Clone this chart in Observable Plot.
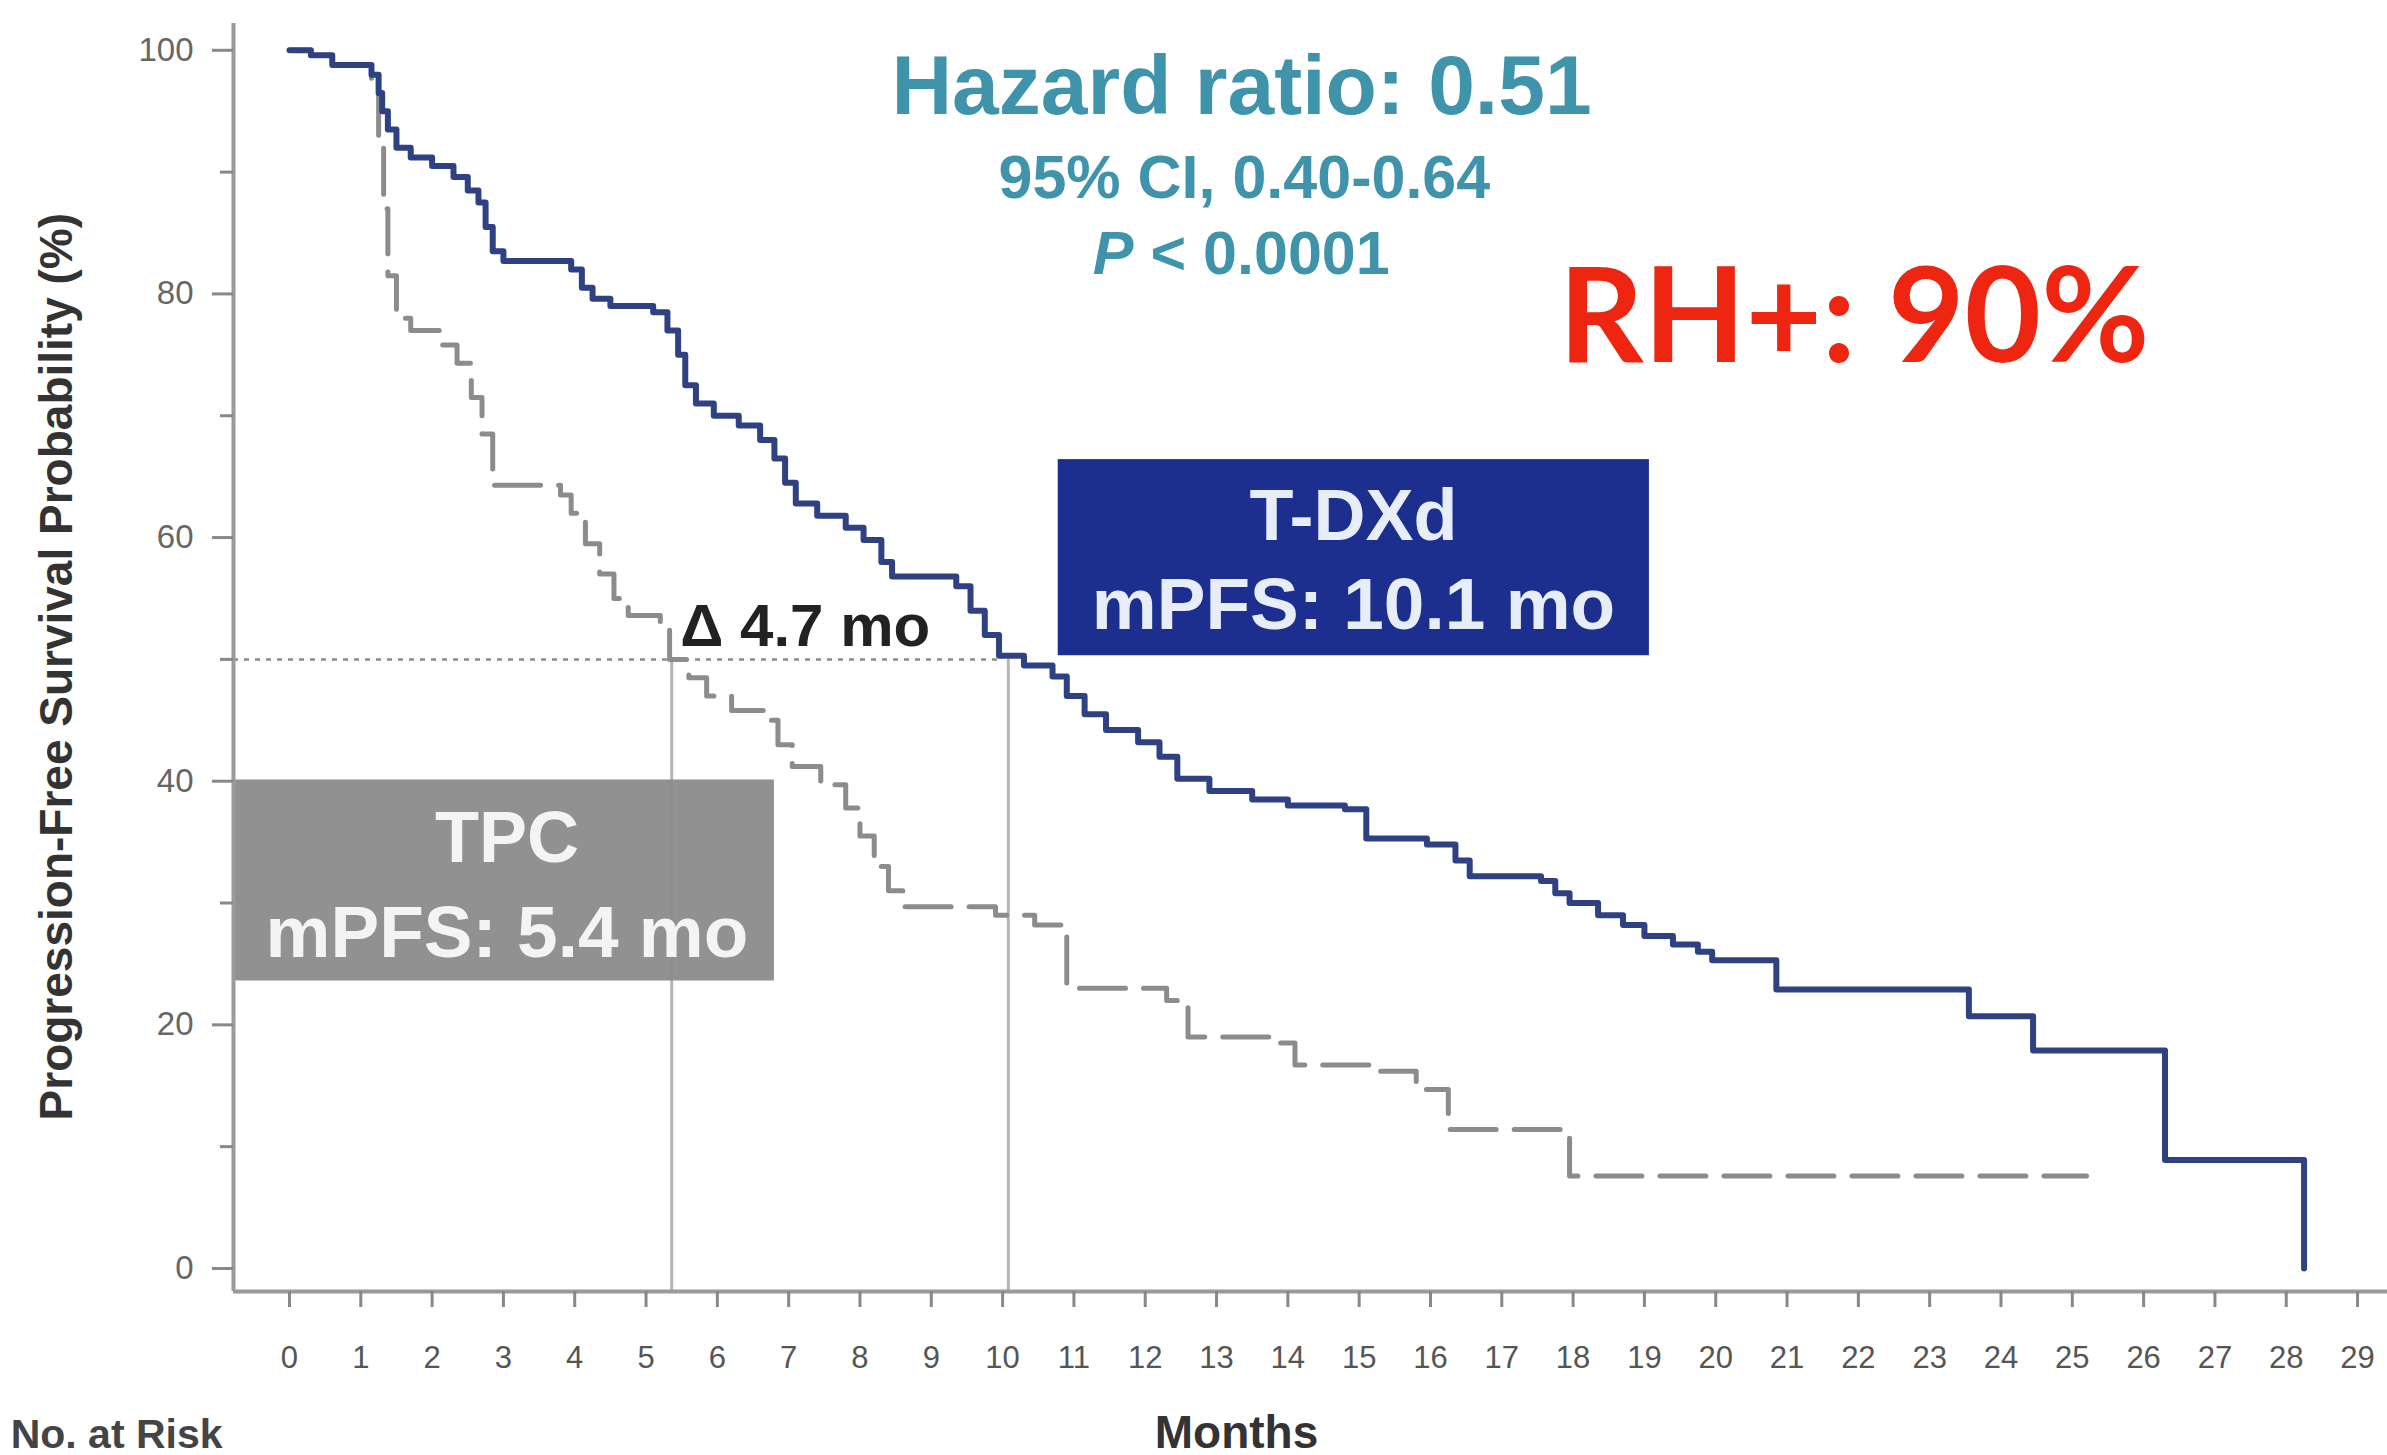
<!DOCTYPE html>
<html>
<head>
<meta charset="utf-8">
<script src="https://cdn.jsdelivr.net/npm/d3@7"></script>
<script src="https://cdn.jsdelivr.net/npm/@observablehq/plot@0.6"></script>
<style>
  html, body { margin: 0; padding: 0; background: #ffffff; }
  #chart svg { display: block; }
</style>
</head>
<body>
<div id="chart"></div>
<script>
// ---------- data ----------
const tdxdTime = [0, 0.3, 0.6, 1.15, 1.25, 1.3, 1.38, 1.5, 1.7, 2.0, 2.3, 2.5, 2.65, 2.75, 2.85, 3.0,
  3.95, 4.1, 4.25, 4.5, 5.1, 5.3, 5.45, 5.55, 5.7, 5.95, 6.3, 6.6, 6.8, 6.95, 7.1, 7.4, 7.8, 8.05,
  8.3, 8.45, 9.35, 9.55, 9.75, 9.95, 10.3, 10.7, 10.9, 11.15, 11.45, 11.9, 12.2, 12.45, 12.9, 13.5,
  14.0, 14.8, 15.1, 15.95, 16.35, 16.55, 17.55, 17.75, 17.95, 18.35, 18.7, 19.0, 19.4, 19.75, 19.95,
  20.85, 23.55, 24.45, 26.3, 28.25];
const tdxdSurv = [100, 99.6, 98.8, 98.0, 96.5, 95.0, 93.5, 92.0, 91.2, 90.5, 89.6, 88.5, 87.5, 85.5, 83.5, 82.7,
  82.0, 80.5, 79.6, 79.0, 78.5, 77.0, 75.0, 72.5, 71.0, 70.0, 69.2, 68.0, 66.5, 64.5, 62.8, 61.8, 60.8, 59.8,
  58.0, 56.8, 56.0, 54.0, 52.0, 50.3, 49.5, 48.6, 47.0, 45.5, 44.2, 43.2, 42.0, 40.2, 39.2, 38.5,
  38.0, 37.7, 35.3, 34.8, 33.5, 32.2, 31.8, 30.8, 30.0, 29.0, 28.2, 27.3, 26.6, 26.0, 25.3,
  22.9, 20.7, 17.9, 8.9, 0];

const tpcTime = [0, 0.3, 0.6, 1.15, 1.25, 1.32, 1.38, 1.5, 1.7, 2.1, 2.35, 2.55, 2.7, 2.85, 3.8, 3.95,
  4.15, 4.35, 4.55, 4.75, 5.2, 5.33, 5.6, 5.85, 6.2, 6.65, 6.85, 7.05, 7.45, 7.8, 8.0, 8.2, 8.4, 8.6,
  9.9, 10.45, 10.9, 12.3, 12.6, 13.75, 14.1, 15.2, 15.8, 16.25, 17.95, 25.2];
const tpcSurv = [100, 99.6, 98.8, 97.5, 93.0, 87.0, 81.5, 78.0, 77.0, 75.8, 74.3, 71.5, 68.5, 64.3, 63.5, 62.0,
  59.5, 57.0, 55.0, 53.6, 53.0, 50.0, 48.5, 47.0, 45.8, 45.0, 43.0, 41.2, 39.7, 37.8, 35.5, 33.0, 31.0, 29.7,
  29.0, 28.2, 23.0, 22.0, 19.0, 18.5, 16.7, 16.2, 14.7, 11.4, 7.6, 7.6];

const xTicks = d3.range(0, 30);              // 0 … 29 months
const yTicksMajor = [0, 20, 40, 60, 80, 100];
const yTicksMinor = [10, 30, 50, 70, 90];

const medianPct = 50;
const medianTPC = 5.36;     // mPFS TPC (read position)
const medianTDXd = 10.08;   // mPFS T-DXd (read position)
const tdxdReach50 = 9.95;   // where the dotted 50% line meets the T-DXd curve

const hrLines = ["Hazard ratio: 0.51", "95% CI, 0.40-0.64"];
const pLabel = ["P", "< 0.0001"];
const rhLabel = "RH+: 90%";
const deltaLabel = "Δ 4.7 mo";
const tdxdBox = ["T-DXd", "mPFS: 10.1 mo"];
const tpcBox = ["TPC", "mPFS: 5.4 mo"];
const xLabel = "Months";
const yLabel = "Progression-Free Survival Probability (%)";
const riskLabel = "No. at Risk";

// ---------- build tables ----------
const tdxd = tdxdTime.map((t, i) => ({t, s: tdxdSurv[i]}));
const tpc = tpcTime.map((t, i) => ({t, s: tpcSurv[i]}));

const xDomain = [-0.785, 29.42];
const yDomain = [-1.89, 102.2];

const sans = "'Liberation Sans', Arial, Helvetica, sans-serif";
const teal = "#3f93aa";

const chart = Plot.plot({
  width: 2387,
  height: 1455,
  marginLeft: 233,
  marginRight: 0,
  marginTop: 23,
  marginBottom: 164,
  x: {domain: xDomain, label: null},
  y: {domain: yDomain, label: null},
  style: {fontFamily: sans, background: "#ffffff", overflow: "visible"},
  marks: [
    // reference lines for medians
    Plot.ruleY([medianPct], {x1: xDomain[0], x2: tdxdReach50, stroke: "#8a8a8a", strokeWidth: 2.5, strokeDasharray: "5,6"}),
    Plot.ruleX([medianTPC, medianTDXd], {y1: yDomain[0], y2: medianPct, stroke: "#b4b4b4", strokeWidth: 3}),

    // annotation boxes
    Plot.rect([0], {x1: -0.77, x2: 6.80, y1: 23.6, y2: 40.1, fill: "#8b8c8b", fillOpacity: 0.96}),
    Plot.rect([0], {x1: 10.78, x2: 19.07, y1: 50.3, y2: 66.4, fill: "#1c2f8e"}),

    // survival curves
    Plot.line(tpc, {x: "t", y: "s", curve: "step-after", stroke: "#8c8c8c", strokeWidth: 5, strokeDasharray: "46,18"}),
    Plot.line(tdxd, {x: "t", y: "s", curve: "step-after", stroke: "#2e4182", strokeWidth: 6, strokeLinejoin: "round"}),

    // axes
    Plot.ruleX([xDomain[0]], {stroke: "#9a9a9a", strokeWidth: 4}),
    Plot.ruleY([yDomain[0]], {stroke: "#9a9a9a", strokeWidth: 4}),
    Plot.axisX({ticks: xTicks, tickSize: 16, tickPadding: 38, fontSize: 31, color: "#555", stroke: "#888", strokeWidth: 3, tickFormat: d => String(d), label: null}),
    Plot.axisY({ticks: yTicksMajor, tickSize: 21, tickPadding: 19, fontSize: 33, color: "#666", stroke: "#888", strokeWidth: 3, tickFormat: d => String(d), label: null}),
    Plot.axisY({ticks: yTicksMinor, tickSize: 13, tickPadding: 0, color: "#888", stroke: "#888", strokeWidth: 3, tickFormat: () => "", label: null}),

    // axis titles
    Plot.text([xLabel], {x: 13.28, y: -13.5, text: d => d, fontSize: 46, fontWeight: "bold", fill: "#333", textAnchor: "middle", lineAnchor: "middle"}),
    Plot.text([yLabel], {x: -3.25, y: 49.4, text: d => d, rotate: -90, fontSize: 46, fontWeight: "bold", fill: "#333", textAnchor: "middle", lineAnchor: "middle"}),
    Plot.text([riskLabel], {x: -3.91, y: -13.7, text: d => d, fontSize: 41, fontWeight: "bold", fill: "#444", textAnchor: "start", lineAnchor: "middle"}),

    // hazard ratio block
    Plot.text([hrLines[0]], {x: 13.35, y: 97.0, text: d => d, fontSize: 84, fontWeight: "bold", fill: teal, textAnchor: "middle", lineAnchor: "middle"}),
    Plot.text([hrLines[1]], {x: 13.39, y: 89.5, text: d => d, fontSize: 61, fontWeight: "bold", fill: teal, textAnchor: "middle", lineAnchor: "middle"}),
    Plot.text([pLabel[0]], {x: 11.836, y: 83.2, text: d => d, fontSize: 61, fontWeight: "bold", fontStyle: "italic", fill: teal, textAnchor: "end", lineAnchor: "middle"}),
    Plot.text([pLabel[1]], {x: 11.836, y: 83.2, dx: 17, text: d => d, fontSize: 61, fontWeight: "bold", fill: teal, textAnchor: "start", lineAnchor: "middle"}),

    // RH+ label
    Plot.text([rhLabel], {x: 21.94, y: 77.9, text: d => d, fontSize: 132, fontWeight: "bold", fontFamily: "Lato, 'Open Sans', sans-serif", fill: "#ee2510", textAnchor: "middle", lineAnchor: "middle"}),

    // delta label
    Plot.text([deltaLabel], {x: 5.48, y: 52.7, text: d => d, fontSize: 60, fontWeight: "bold", fill: "#222", textAnchor: "start", lineAnchor: "middle"}),

    // box texts
    Plot.text([tdxdBox[0]], {x: 14.92, y: 61.66, text: d => d, fontSize: 72, fontWeight: "bold", fill: "#e8eef9", textAnchor: "middle", lineAnchor: "middle"}),
    Plot.text([tdxdBox[1]], {x: 14.92, y: 54.43, text: d => d, fontSize: 73, fontWeight: "bold", fill: "#e8eef9", textAnchor: "middle", lineAnchor: "middle"}),
    Plot.text([tpcBox[0]], {x: 3.05, y: 35.3, text: d => d, fontSize: 72, fontWeight: "bold", fill: "#f4f4f4", textAnchor: "middle", lineAnchor: "middle"}),
    Plot.text([tpcBox[1]], {x: 3.05, y: 27.5, text: d => d, fontSize: 73, fontWeight: "bold", fill: "#f4f4f4", textAnchor: "middle", lineAnchor: "middle"})
  ]
});

document.getElementById("chart").appendChild(chart);
</script>
</body>
</html>
